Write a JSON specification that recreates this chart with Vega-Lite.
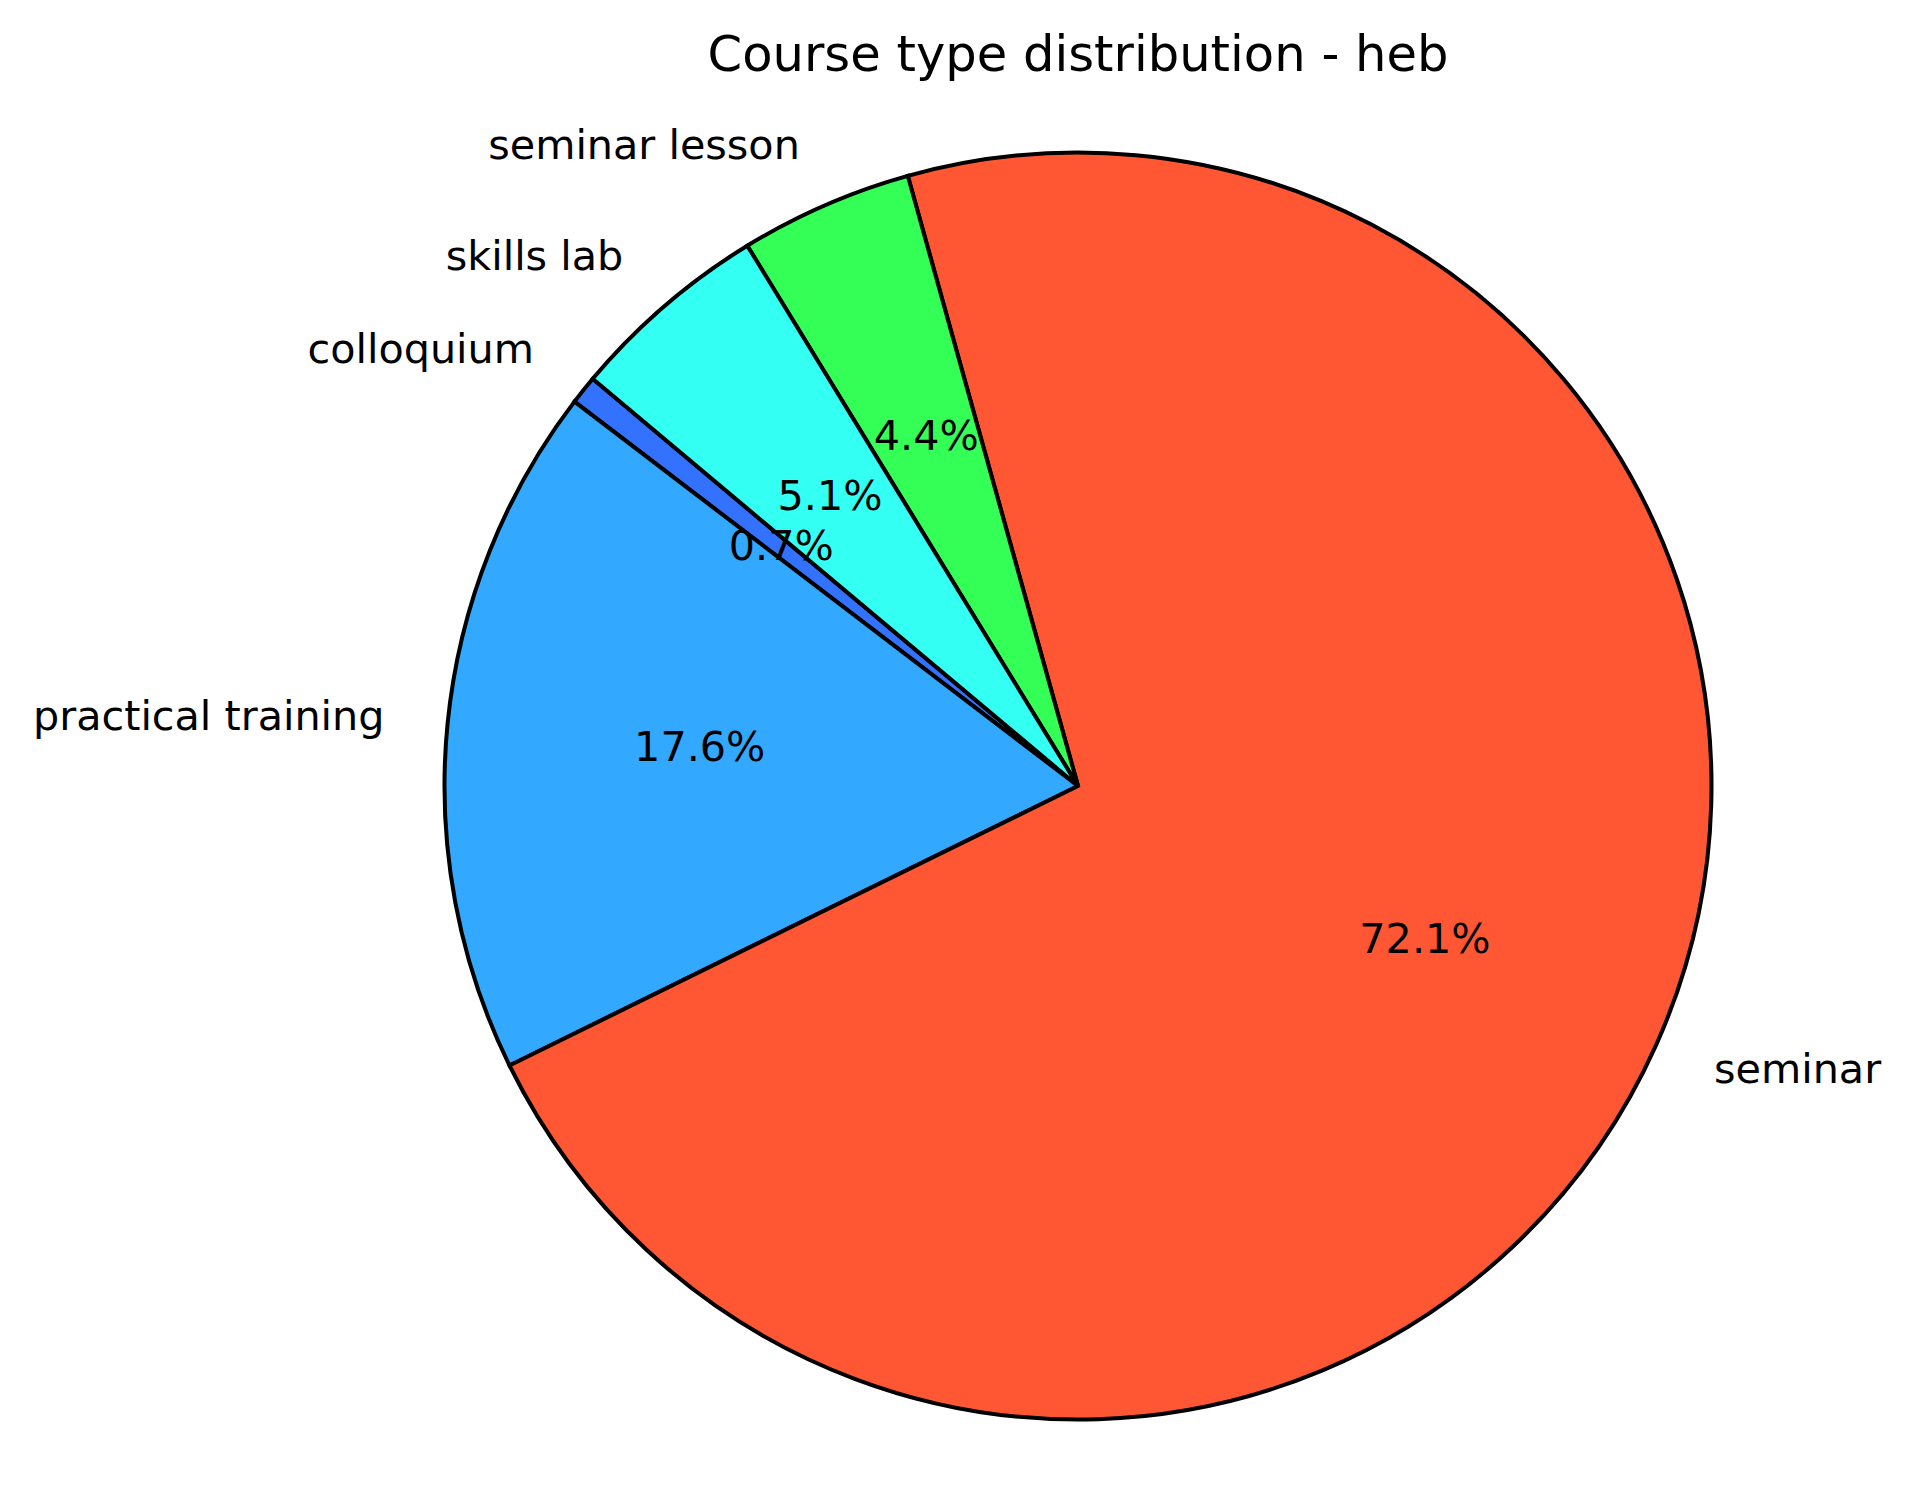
{
  "$schema": "https://vega.github.io/schema/vega-lite/v6.json",
  "width": 1267,
  "height": 1267,
  "autosize": {"type": "none"},
  "padding": {"left": 444.5, "top": 152.5, "right": 201.5, "bottom": 89.5},
  "background": "white",
  "title": {
    "text": "Course type distribution - heb",
    "font": "DejaVu Sans",
    "fontSize": 49.6,
    "fontWeight": "normal",
    "color": "black",
    "anchor": "middle",
    "frame": "group",
    "baseline": "alphabetic",
    "offset": 5
  },
  "data": {
    "values": [
      {"type": "colloquium", "count": 1, "pct": "0.7%"},
      {"type": "practical training", "count": 24, "pct": "17.6%"},
      {"type": "seminar", "count": 98, "pct": "72.1%"},
      {"type": "seminar lesson", "count": 6, "pct": "4.4%"},
      {"type": "skills lab", "count": 7, "pct": "5.1%"}
    ]
  },
  "encoding": {
    "theta": {"field": "count", "type": "quantitative", "stack": true, "scale": {"range": [-0.872665, 5.410520]}},
    "order": {"field": "type", "type": "nominal", "sort": "descending"},
    "detail": {"field": "type", "type": "nominal"}
  },
  "layer": [
    {
      "mark": {"type": "arc", "radius": 633.5, "stroke": "black", "strokeWidth": 4},
      "encoding": {
        "color": {
          "field": "type",
          "type": "nominal",
          "scale": {
            "domain": ["colloquium", "practical training", "seminar", "seminar lesson", "skills lab"],
            "range": ["#3371FF", "#33A8FF", "#FF5733", "#33FF57", "#33FFF3"]
          },
          "legend": null
        }
      }
    },
    {
      "mark": {"type": "text", "radius": 380.1, "font": "DejaVu Sans", "fontSize": 41.3, "fill": "black", "align": "center", "baseline": "middle"},
      "encoding": {"text": {"field": "pct", "type": "nominal"}}
    },
    {
      "mark": {"type": "text", "radius": 696.85, "font": "DejaVu Sans", "fontSize": 41.3, "fill": "black", "align": "right", "baseline": "middle"},
      "encoding": {"text": {"condition": {"test": "datum.type !== 'seminar'", "field": "type"}, "value": ""}}
    },
    {
      "mark": {"type": "text", "radius": 696.85, "font": "DejaVu Sans", "fontSize": 41.3, "fill": "black", "align": "left", "baseline": "middle"},
      "encoding": {"text": {"condition": {"test": "datum.type === 'seminar'", "field": "type"}, "value": ""}}
    }
  ]
}
